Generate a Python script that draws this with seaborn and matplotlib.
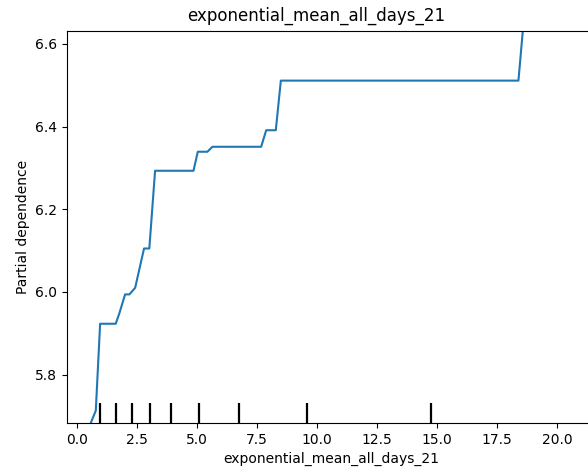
import numpy as np
import pandas as pd
import matplotlib
matplotlib.use("Agg")
import matplotlib.pyplot as plt
import seaborn as sns

feature = "exponential_mean_all_days_21"

# partial dependence curve
grid_x = [0.57, 0.78, 0.96, 1.61, 1.76, 2.00, 2.18, 2.42, 2.79, 3.01, 3.25,
          4.85, 5.03, 5.43, 5.64, 7.67, 7.88, 8.28, 8.49, 18.39, 18.57, 18.75]
pd_vals = [5.683, 5.713, 5.923, 5.923, 5.948, 5.994, 5.994, 6.010, 6.105, 6.105, 6.293,
           6.293, 6.339, 6.339, 6.351, 6.351, 6.391, 6.391, 6.511, 6.511, 6.630, 6.75]

# deciles of the feature (rug marks)
deciles = [0.96, 1.625, 2.29, 3.04, 3.93, 5.10, 6.75, 9.60, 14.74]

df = pd.DataFrame({"x": grid_x, "y": pd_vals})

fig = plt.figure(figsize=(5.88, 4.76), dpi=100)
ax = fig.add_axes([67 / 588, 53 / 476, 528 / 588, 392 / 476])

sns.lineplot(data=df, x="x", y="y", ax=ax, color="#1f77b4", linewidth=1.5)
sns.rugplot(x=deciles, ax=ax, height=0.05, color="black", linewidth=1.6)

ax.set_xlim(-0.42, 21.58)
ax.set_ylim(5.683, 6.631)
ax.set_yticks([5.8, 6.0, 6.2, 6.4, 6.6])
ax.set_xticks([0, 2.5, 5, 7.5, 10, 12.5, 15, 17.5, 20])
ax.set_xlabel(feature)
ax.set_ylabel("Partial dependence")

fig.text(316.5 / 588, 1 - 16 / 476, feature, ha="center", va="center", fontsize=12)

fig.savefig("out.png", dpi=100)
